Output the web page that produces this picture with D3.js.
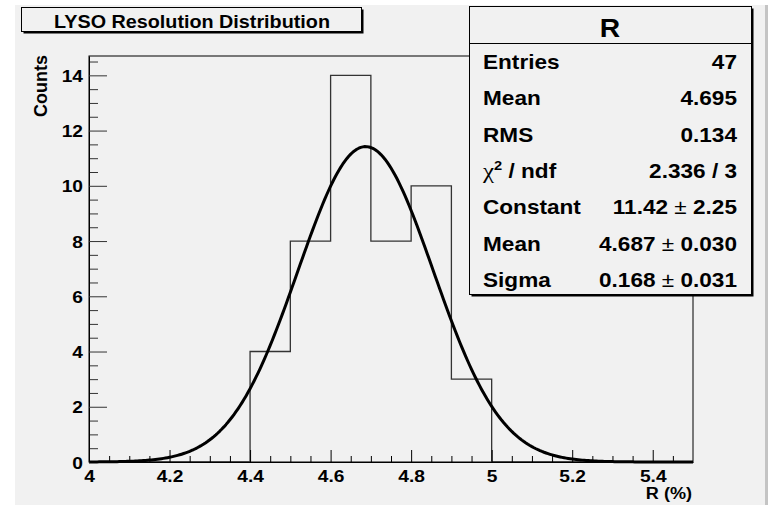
<!DOCTYPE html>
<html lang="en">
<head>
    <meta charset="UTF-8">
    <title>LYSO Resolution Distribution</title>
    <style>
        body { margin: 0; background: #fff; }
        svg text { font-family: "Liberation Sans", Arial, sans-serif; font-weight: bold; fill: #000; }
    </style>
</head>
<body>
    <script src="https://cdn.jsdelivr.net/npm/d3@7"></script>
    <script>
        // histogram bins (lower edge, width 0.1) and counts
        const binEdges = [4.4, 4.5, 4.6, 4.7, 4.8, 4.9];
        const binCounts = [4, 8, 14, 8, 10, 3];
        const binWidth = 0.1;

        // gaussian fit parameters as printed in the stats box
        const fitConstant = 11.42;
        const fitMean = 4.687;
        const fitSigma = 0.168;

        const xMajorTicks = [4, 4.2, 4.4, 4.6, 4.8, 5, 5.2, 5.4];
        const yMajorTicks = [0, 2, 4, 6, 8, 10, 12, 14];

        const statLabels = ["Entries", "Mean", "RMS", "chi2", "Constant", "Mean", "Sigma"];
        const statValues = ["47", "4.695", "0.134", "2.336 / 3", "11.42|2.25", "4.687|0.030", "0.168|0.031"];
    </script>
    <script>
        const width = 774, height = 505;
        const SX = 1.13; // text in the original is a bit wider than tall
        const marginLeft = 89, marginRight = 81, marginTop = 56, marginBottom = 43;

        const svg = d3.select("body").append("svg")
            .attr("width", width)
            .attr("height", height);

        // canvas
        svg.append("rect").attr("x", 15).attr("y", 5).attr("width", 753).attr("height", 500).attr("fill", "#f1f1f1");
        svg.append("rect").attr("x", 765).attr("y", 5).attr("width", 3).attr("height", 500).attr("fill", "#c4c4c4");

        const x = d3.scaleLinear().domain([4, 5.5]).range([marginLeft, width - marginRight]);
        const y = d3.scaleLinear().domain([0, 14.7]).range([height - marginBottom, marginTop]);

        // frame
        svg.append("rect")
            .attr("x", x(4)).attr("y", y(14.7))
            .attr("width", x(5.5) - x(4)).attr("height", y(0) - y(14.7))
            .attr("fill", "none").attr("stroke", "#000").attr("stroke-width", 1);

        // histogram outline (step contour only)
        const histPts = [[4, 0], [binEdges[0], 0]];
        binEdges.forEach((e, i) => {
            histPts.push([e, binCounts[i]], [e + binWidth, binCounts[i]]);
        });
        histPts.push([binEdges[binEdges.length - 1] + binWidth, 0], [5.5, 0]);
        svg.append("path")
            .attr("d", d3.line().x(d => x(d[0])).y(d => y(d[1]))(histPts))
            .attr("fill", "none").attr("stroke", "#333").attr("stroke-width", 1.3);

        // fit curve
        const gauss = v => fitConstant * Math.exp(-0.5 * Math.pow((v - fitMean) / fitSigma, 2));
        const fitPts = d3.range(4, 5.5001, 0.005).map(v => [v, gauss(v)]);
        svg.append("path")
            .attr("d", d3.line().x(d => x(d[0])).y(d => y(d[1]))(fitPts))
            .attr("fill", "none").attr("stroke", "#000").attr("stroke-width", 3)
            .attr("stroke-linejoin", "round");

        // y axis
        const yMinor = d3.range(0, 14.7, 0.5).filter(v => v % 2 !== 0);
        svg.append("g")
            .attr("transform", `translate(${marginLeft},0)`)
            .call(d3.axisLeft(y).tickValues(yMinor).tickSize(-9).tickFormat("").tickSizeOuter(0))
            .call(g => g.select(".domain").remove())
            .call(g => g.selectAll("line").attr("stroke", "#333"));
        svg.append("g")
            .attr("transform", `translate(${marginLeft},0)`)
            .call(d3.axisLeft(y).tickValues(yMajorTicks).tickSize(-18).tickPadding(6).tickSizeOuter(0))
            .call(g => g.select(".domain").attr("stroke", "#000"))
            .call(g => g.selectAll("line").attr("stroke", "#333"))
            .call(g => g.selectAll("text")
                .attr("font-size", 17).attr("font-family", null)
                .attr("x", -6 / SX).attr("dy", "0.36em")
                .attr("transform", `scale(${SX},1)`));

        // x axis
        const xMinor = d3.range(4, 5.5, 0.05).filter(v => Math.abs(v / 0.2 - Math.round(v / 0.2)) > 0.01);
        svg.append("g")
            .attr("transform", `translate(0,${height - marginBottom})`)
            .call(d3.axisBottom(x).tickValues(xMinor).tickSize(-6).tickFormat("").tickSizeOuter(0))
            .call(g => g.select(".domain").remove())
            .call(g => g.selectAll("line").attr("stroke", "#000"));
        svg.append("g")
            .attr("transform", `translate(0,${height - marginBottom})`)
            .call(d3.axisBottom(x).tickValues(xMajorTicks).tickSize(-12).tickPadding(8).tickSizeOuter(0)
                .tickFormat(d3.format("~g")))
            .call(g => g.select(".domain").attr("stroke", "#000"))
            .call(g => g.selectAll("line").attr("stroke", "#000"))
            .call(g => g.selectAll("text")
                .attr("font-size", 17).attr("font-family", null)
                .attr("transform", `scale(${SX},1)`));

        // axis titles
        svg.append("text")
            .attr("transform", `translate(${x(5.5) - 1},499) scale(${SX},1)`)
            .attr("text-anchor", "end").attr("font-size", 16)
            .text("R (%)");
        svg.append("text")
            .attr("transform", "translate(46.5,55) rotate(-90)")
            .attr("text-anchor", "end").attr("font-size", 18)
            .text("Counts");

        // title box
        function shadowBox(bx, by, bw, bh) {
            svg.append("rect").attr("x", bx + 2).attr("y", by + 2).attr("width", bw).attr("height", bh).attr("fill", "#000");
            svg.append("rect").attr("x", bx).attr("y", by).attr("width", bw).attr("height", bh)
                .attr("fill", "#f1f1f1").attr("stroke", "#000").attr("stroke-width", 1);
        }
        shadowBox(21.5, 7.5, 340, 24);
        svg.append("text")
            .attr("transform", `translate(192,28) scale(${SX},1)`)
            .attr("text-anchor", "middle").attr("font-size", 17.5)
            .text("LYSO Resolution Distribution");

        // stats box
        const sbX = 469.5, sbY = 6.5, sbW = 282, sbH = 288;
        shadowBox(sbX, sbY, sbW, sbH);
        svg.append("line").attr("x1", sbX).attr("x2", sbX + sbW).attr("y1", 43.5).attr("y2", 43.5)
            .attr("stroke", "#000").attr("stroke-width", 1);
        svg.append("text")
            .attr("transform", `translate(610,37) scale(${SX},1)`)
            .attr("text-anchor", "middle").attr("font-size", 25)
            .text("R");

        const rowY = d3.scaleLinear().domain([0, 6]).range([69, 287]);
        statLabels.forEach((lab, i) => {
            const t = svg.append("text")
                .attr("transform", `translate(483,${rowY(i)}) scale(${SX},1)`)
                .attr("font-size", 20);
            if (lab === "chi2") {
                t.append("tspan").attr("font-weight", "normal")
                    .attr("font-family", "'Liberation Serif', serif").attr("font-size", 22).text("χ");
                t.append("tspan").attr("font-size", 13).attr("dy", -8).text("2");
                t.append("tspan").attr("dy", 8).text(" / ndf");
            } else {
                t.text(lab);
            }
        });
        statValues.forEach((val, i) => {
            const t = svg.append("text")
                .attr("transform", `translate(737,${rowY(i)}) scale(${SX},1)`)
                .attr("text-anchor", "end")
                .attr("font-size", 20);
            const parts = val.split("|");
            if (parts.length === 2) {
                t.append("tspan").text(parts[0]);
                t.append("tspan").attr("font-weight", "normal").text(" ± ");
                t.append("tspan").text(parts[1]);
            } else {
                t.text(val);
            }
        });
    </script>
</body>
</html>
